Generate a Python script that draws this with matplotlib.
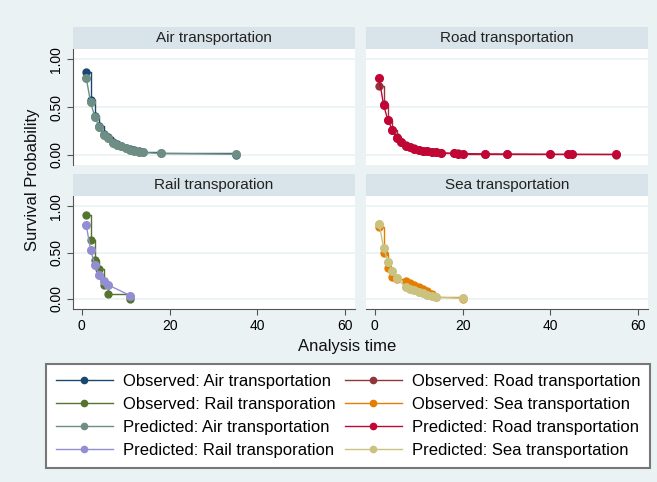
import matplotlib
matplotlib.use("Agg")
import matplotlib.pyplot as plt
from matplotlib.patches import Rectangle
from matplotlib.lines import Line2D

plt.rcParams['font.family'] = ['Liberation Sans', 'DejaVu Sans']

# ---- data ----
air_t = [1, 2, 3, 4, 5, 6, 7, 8, 9, 10, 11, 12, 13, 14, 18, 35]
air_obs = [0.87, 0.57, 0.41, 0.30, 0.22, 0.18, 0.13, 0.11, 0.09, 0.07, 0.055, 0.045, 0.035, 0.025, 0.012, 0.0]
air_pred = [0.81, 0.55, 0.39, 0.29, 0.21, 0.17, 0.12, 0.10, 0.085, 0.065, 0.05, 0.04, 0.03, 0.022, 0.012, 0.004]

road_t = [1, 2, 3, 4, 5, 6, 7, 8, 9, 10, 11, 12, 13, 14, 15, 18, 19, 20, 25, 30, 40, 44, 45, 55]
road_obs = [0.72, 0.53, 0.36, 0.26, 0.18, 0.13, 0.10, 0.08, 0.065, 0.05, 0.042, 0.035, 0.03, 0.025, 0.02,
            0.013, 0.011, 0.01, 0.008, 0.006, 0.004, 0.003, 0.002, 0.0]
road_pred = [0.80, 0.52, 0.36, 0.26, 0.17, 0.13, 0.094, 0.075, 0.06, 0.05, 0.04, 0.035, 0.03, 0.025, 0.02,
             0.012, 0.01, 0.01, 0.007, 0.005, 0.003, 0.002, 0.002, 0.001]

rail_t = [1, 2, 3, 4, 5, 6, 11]
rail_obs = [0.90, 0.63, 0.42, 0.32, 0.15, 0.05, 0.0]
rail_pred = [0.80, 0.53, 0.36, 0.26, 0.19, 0.15, 0.035]

sea_t = [1, 2, 3, 4, 5, 7, 8, 9, 10, 11, 12, 13, 14, 20]
sea_obs = [0.78, 0.50, 0.33, 0.235, 0.21, 0.19, 0.17, 0.15, 0.13, 0.11, 0.08, 0.05, 0.02, 0.0]
sea_pred = [0.81, 0.55, 0.40, 0.30, 0.22, 0.13, 0.11, 0.09, 0.075, 0.06, 0.045, 0.035, 0.018, 0.005]

panels = [
    ("Air transportation", air_t, air_obs, air_pred, "#1A476F", "#6E8E84"),
    ("Road transportation", road_t, road_obs, road_pred, "#90353B", "#C10534"),
    ("Rail transporation", rail_t, rail_obs, rail_pred, "#55752F", "#938DD2"),
    ("Sea transportation", sea_t, sea_obs, sea_pred, "#E37E00", "#CAC27E"),
]

bg = "#EAF2F3"
strip = "#D8E4EA"
W, H = 657, 482

fig = plt.figure(figsize=(6.57, 4.82), dpi=100, facecolor=bg)


def fx(px):
    return px / W


def fy(py):
    return 1 - py / H


# panel boxes in pixels: (x0, x1, y0, y1) plus strip (y0, y1)
boxes = [
    (73, 355, 49, 165, 27, 49),
    (366, 648, 49, 165, 27, 49),
    (73, 355, 196, 309, 174, 196),
    (366, 648, 196, 309, 174, 196),
]

for i, (title, t, obs, pred, c_obs, c_pred) in enumerate(panels):
    x0, x1, y0, y1, s0, s1 = boxes[i]
    ax = fig.add_axes([fx(x0), fy(y1), fx(x1 - x0), (y1 - y0) / H])
    ax.set_facecolor("white")
    ax.set_xlim(-2, 62.2)
    ax.set_ylim(-0.11, 1.11)
    ax.set_yticks([0, 0.5, 1.0])
    ax.set_xticks([0, 20, 40, 60])
    ax.grid(axis='y', color=bg, lw=1.2)
    ax.grid(axis='x', visible=False)
    ax.set_axisbelow(True)
    for s in ax.spines.values():
        s.set_visible(False)

    left = i % 2 == 0
    bottom = i >= 2
    if left:
        ax.spines['left'].set_visible(True)
        ax.spines['left'].set_color("#555555")
        ax.set_yticklabels(["0.00", "0.50", "1.00"], rotation=90, va='center')
        ax.tick_params(axis='y', length=4, color="#555555", labelsize=10, pad=3)
    else:
        ax.tick_params(axis='y', left=False, labelleft=False)
    if bottom:
        ax.spines['bottom'].set_visible(True)
        ax.spines['bottom'].set_color("#555555")
        ax.tick_params(axis='x', length=4, color="#555555", labelsize=10, pad=3)
    else:
        ax.tick_params(axis='x', bottom=False, labelbottom=False)

    ax.step(t, obs, where='post', color=c_obs, lw=1.0, zorder=3)
    ax.plot(t, obs, 'o', color=c_obs, ms=5, zorder=3)
    ax.plot(t, pred, '-o', color=c_pred, lw=1.0, ms=5.5, zorder=4)

    fig.add_artist(Rectangle((fx(x0), fy(s1)), fx(x1 - x0), (s1 - s0) / H,
                             transform=fig.transFigure, facecolor=strip, edgecolor='none'))
    fig.text(fx((x0 + x1) / 2), fy((s0 + s1) / 2), title, ha='center', va='center',
             fontsize=11, color="#222222")

fig.text(fx(33), fy(180), "Survival Probability", rotation=90, ha='center', va='center',
         fontsize=12, color="#111111")
fig.text(fx(347), fy(346), "Analysis time", ha='center', va='center', fontsize=12, color="#111111")

labels = [
    "Observed: Air transportation", "Observed: Rail transporation",
    "Predicted: Air transportation", "Predicted: Rail transporation",
    "Observed: Road transportation", "Observed: Sea transportation",
    "Predicted: Road transportation", "Predicted: Sea transportation",
]
cols = ["#1A476F", "#55752F", "#6E8E84", "#938DD2", "#90353B", "#E37E00", "#C10534", "#CAC27E"]
handles = [Line2D([], [], color=c, lw=1.0, marker='o', ms=4.5) for c in cols]

leg = fig.legend(handles, labels, ncol=2, loc='upper left',
                 bbox_to_anchor=(fx(46), fy(467), fx(604), 103 / H), mode='expand',
                 fontsize=12, handlelength=3.4, handletextpad=0.6, labelspacing=0.47,
                 borderpad=0.6, borderaxespad=0, numpoints=1, fancybox=False)
leg.get_frame().set_edgecolor("#777777")
leg.get_frame().set_linewidth(1.5)
leg.get_frame().set_facecolor("white")
leg.get_frame().set_alpha(1)

fig.savefig("out.png", dpi=100, facecolor=bg)
